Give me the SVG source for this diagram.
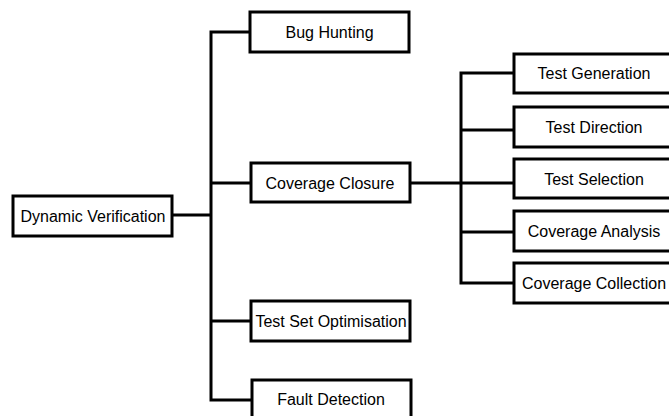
<svg xmlns="http://www.w3.org/2000/svg" width="669" height="416" viewBox="0 0 669 416">
<style>
.box{fill:#fff;stroke:#000;stroke-width:3}
.lbl{font-family:"Liberation Sans",Arial,sans-serif;font-size:16px;fill:#000;text-anchor:middle}
.con{fill:none;stroke:#000;stroke-width:3;stroke-linejoin:miter;stroke-linecap:square}
</style>
<rect width="669" height="416" fill="#fff"/>
<g id="connectors">
<path class="con" d="M172,215 H211 M211,32 V400 M211,32 H250 M211,183 H251 M211,321 H251 M211,400 H252"/>
<path class="con" d="M410,183 H514 M461,73 V283 M461,73 H514 M461,130 H514 M461,232 H514 M461,283 H514"/>
</g>
<g id="dynamic-verification"><rect class="box" x="13" y="196" width="159" height="40"/><text class="lbl" x="93" y="221.7">Dynamic Verification</text></g>
<g id="bug-hunting"><rect class="box" x="250" y="12" width="159" height="40"/><text class="lbl" x="329.5" y="37.5">Bug Hunting</text></g>
<g id="coverage-closure"><rect class="box" x="251" y="163" width="159" height="39"/><text class="lbl" x="330" y="188.5">Coverage Closure</text></g>
<g id="test-set-optimisation"><rect class="box" x="251" y="301" width="159" height="40"/><text class="lbl" x="331" y="326.5">Test Set Optimisation</text></g>
<g id="fault-detection"><rect class="box" x="252" y="380" width="159" height="40"/><text class="lbl" x="331" y="405">Fault Detection</text></g>
<g id="test-generation"><rect class="box" x="514" y="54" width="160" height="39"/><text class="lbl" x="594" y="79">Test Generation</text></g>
<g id="test-direction"><rect class="box" x="514" y="107" width="160" height="40"/><text class="lbl" x="594" y="132.5">Test Direction</text></g>
<g id="test-selection"><rect class="box" x="514" y="159" width="160" height="39"/><text class="lbl" x="594" y="184.5">Test Selection</text></g>
<g id="coverage-analysis"><rect class="box" x="514" y="211" width="160" height="40"/><text class="lbl" x="594" y="236.5">Coverage Analysis</text></g>
<g id="coverage-collection"><rect class="box" x="514" y="263" width="160" height="40"/><text class="lbl" x="594" y="288.5">Coverage Collection</text></g>
</svg>
